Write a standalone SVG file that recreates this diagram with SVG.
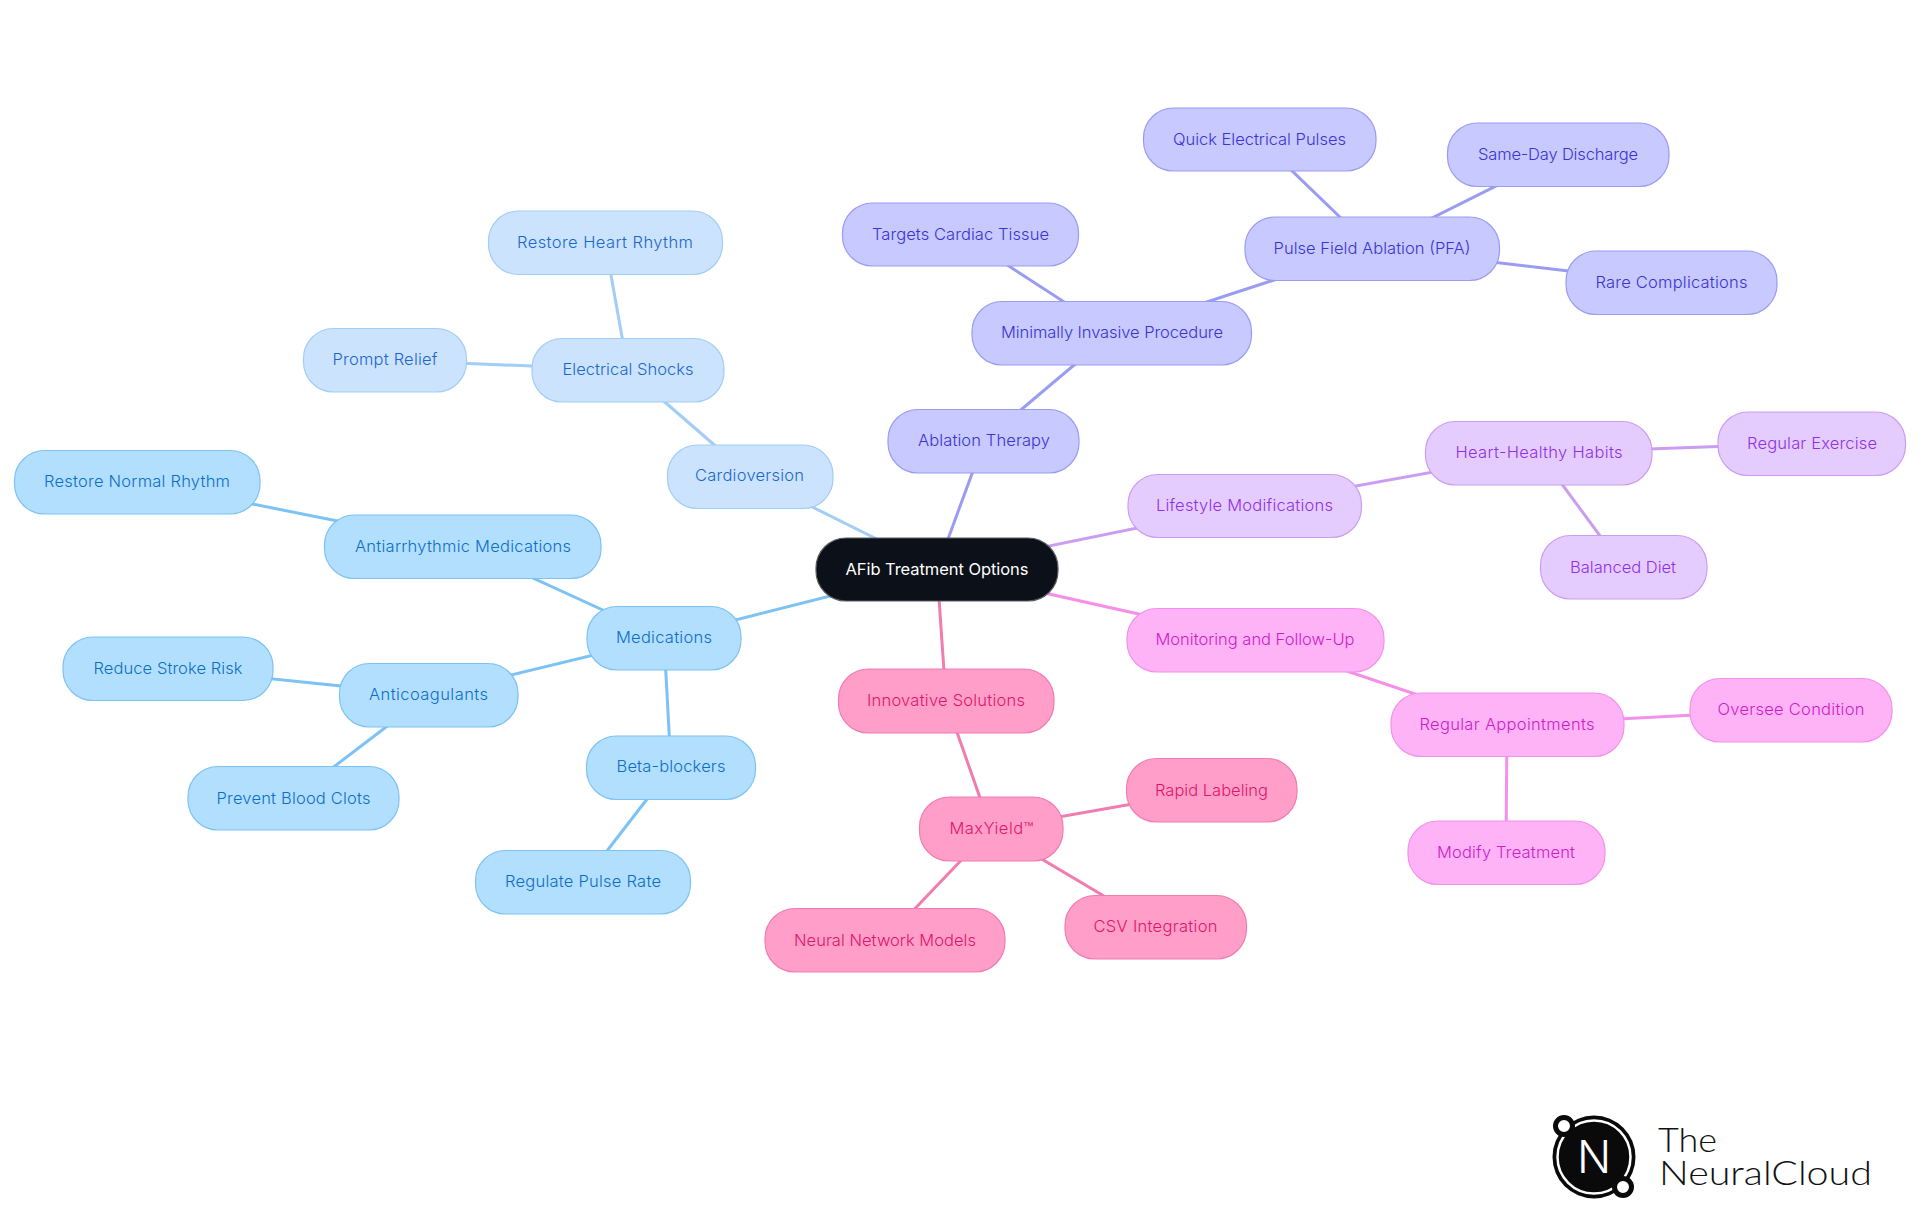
<svg xmlns="http://www.w3.org/2000/svg" width="1920" height="1215" viewBox="0 0 1920 1215">
<style>
text{font-family:"Inter","Noto Sans","Liberation Sans",sans-serif;font-size:16.5px;font-weight:350;text-anchor:middle}
rect{stroke-width:1.2}
#connectors line{stroke-width:3;fill:none}
.med rect{fill:#b3dfff;stroke:#7cc2f4}.med text{fill:#0b6fc6}
.car rect{fill:#cce3fd;stroke:#a2cdf5}.car text{fill:#1a68cc}
.abl rect{fill:#c7c9ff;stroke:#9a9cf2}.abl text{fill:#3a34d0}
.lif rect{fill:#e5ccff;stroke:#cb9df2}.lif text{fill:#9030e6}
.mon rect{fill:#ffb3f7;stroke:#f590e8}.mon text{fill:#cc1cc6}
.inn rect{fill:#ff9fc9;stroke:#f07cb0}.inn text{fill:#e0146c}
.root rect{fill:#0b1019;stroke:#5a5e64}.root text{fill:#fff;font-weight:400}
.c-med{stroke:#7cc2f4}.c-car{stroke:#a2cdf5}.c-abl{stroke:#9a9cf2}.c-lif{stroke:#cb9df2}.c-mon{stroke:#f590e8}.c-inn{stroke:#f07cb0}
#logo .word{font-family:"Lato","Open Sans",sans-serif;font-weight:300;font-size:33px;text-anchor:start;fill:#111}
#logo .mark{font-size:45px;font-weight:300;fill:#fff}
</style>
<rect width="1920" height="1215" fill="#fff" stroke="none"/>
<g id="connectors">
<line class="c-car" x1="937" y1="569" x2="750" y2="476"/>
<line class="c-car" x1="750" y1="476" x2="628" y2="370"/>
<line class="c-car" x1="628" y1="370" x2="605" y2="242"/>
<line class="c-car" x1="628" y1="370" x2="385" y2="360"/>
<line class="c-med" x1="937" y1="569" x2="664" y2="638"/>
<line class="c-med" x1="664" y1="638" x2="463" y2="546"/>
<line class="c-med" x1="463" y1="546" x2="137" y2="481"/>
<line class="c-med" x1="664" y1="638" x2="428" y2="695"/>
<line class="c-med" x1="428" y1="695" x2="168" y2="668"/>
<line class="c-med" x1="428" y1="695" x2="293" y2="798"/>
<line class="c-med" x1="664" y1="638" x2="671" y2="768"/>
<line class="c-med" x1="671" y1="768" x2="583" y2="882"/>
<line class="c-abl" x1="937" y1="569" x2="984" y2="441"/>
<line class="c-abl" x1="984" y1="441" x2="1112" y2="333"/>
<line class="c-abl" x1="1112" y1="333" x2="961" y2="235"/>
<line class="c-abl" x1="1112" y1="333" x2="1372" y2="248"/>
<line class="c-abl" x1="1372" y1="248" x2="1260" y2="140"/>
<line class="c-abl" x1="1372" y1="248" x2="1558" y2="155"/>
<line class="c-abl" x1="1372" y1="248" x2="1671" y2="283"/>
<line class="c-lif" x1="937" y1="569" x2="1245" y2="506"/>
<line class="c-lif" x1="1245" y1="506" x2="1539" y2="453"/>
<line class="c-lif" x1="1539" y1="453" x2="1812" y2="443"/>
<line class="c-lif" x1="1539" y1="453" x2="1623" y2="567"/>
<line class="c-mon" x1="937" y1="569" x2="1255" y2="640"/>
<line class="c-mon" x1="1255" y1="640" x2="1507" y2="725"/>
<line class="c-mon" x1="1507" y1="725" x2="1791" y2="710"/>
<line class="c-mon" x1="1507" y1="725" x2="1506" y2="852"/>
<line class="c-inn" x1="937" y1="569" x2="946" y2="701"/>
<line class="c-inn" x1="946" y1="701" x2="991" y2="829"/>
<line class="c-inn" x1="991" y1="829" x2="1212" y2="790"/>
<line class="c-inn" x1="991" y1="829" x2="1156" y2="927"/>
<line class="c-inn" x1="991" y1="829" x2="885" y2="940"/>
</g>
<g id="n-root" class="root"><rect x="816" y="538" width="242" height="63" rx="30"/><text x="937" y="575" textLength="183">AFib Treatment Options</text></g>
<g id="n-cardioversion" class="car"><rect x="667.5" y="445" width="165.5" height="63.5" rx="30"/><text x="749.5" y="481" textLength="109">Cardioversion</text></g>
<g id="n-electrical" class="car"><rect x="532" y="338.5" width="192" height="63.5" rx="30"/><text x="628" y="375" textLength="131">Electrical Shocks</text></g>
<g id="n-restore-heart" class="car"><rect x="488.5" y="211" width="234" height="63.5" rx="30"/><text x="605" y="248" textLength="176">Restore Heart Rhythm</text></g>
<g id="n-prompt" class="car"><rect x="303.5" y="328.5" width="163" height="63.5" rx="30"/><text x="385" y="365" textLength="105">Prompt Relief</text></g>
<g id="n-medications" class="med"><rect x="587" y="606.5" width="154" height="63.5" rx="30"/><text x="664" y="643" textLength="96">Medications</text></g>
<g id="n-antiarrhythmic" class="med"><rect x="324.5" y="515" width="276.5" height="63.5" rx="30"/><text x="463" y="552" textLength="216">Antiarrhythmic Medications</text></g>
<g id="n-restore-normal" class="med"><rect x="14.5" y="450.5" width="245.5" height="63.5" rx="30"/><text x="137" y="487" textLength="186">Restore Normal Rhythm</text></g>
<g id="n-anticoagulants" class="med"><rect x="339.5" y="663.5" width="178.5" height="63.5" rx="30"/><text x="428.5" y="699.5" textLength="119">Anticoagulants</text></g>
<g id="n-reduce" class="med"><rect x="63" y="637" width="210" height="63.5" rx="30"/><text x="168" y="674" textLength="149">Reduce Stroke Risk</text></g>
<g id="n-prevent" class="med"><rect x="188" y="766.5" width="211" height="63.5" rx="30"/><text x="293.5" y="804" textLength="154">Prevent Blood Clots</text></g>
<g id="n-beta" class="med"><rect x="586.5" y="736" width="169" height="63.5" rx="30"/><text x="671" y="772" textLength="109">Beta-blockers</text></g>
<g id="n-regulate" class="med"><rect x="475.5" y="850.5" width="215" height="63.5" rx="30"/><text x="583" y="887" textLength="156">Regulate Pulse Rate</text></g>
<g id="n-ablation" class="abl"><rect x="888" y="409.5" width="191" height="63.5" rx="30"/><text x="984" y="446" textLength="132">Ablation Therapy</text></g>
<g id="n-minimally" class="abl"><rect x="972" y="301.5" width="279.5" height="63.5" rx="30"/><text x="1112" y="338" textLength="222">Minimally Invasive Procedure</text></g>
<g id="n-targets" class="abl"><rect x="842.5" y="203" width="236" height="63" rx="30"/><text x="960.5" y="240" textLength="177">Targets Cardiac Tissue</text></g>
<g id="n-pfa" class="abl"><rect x="1245" y="217" width="254.5" height="63.5" rx="30"/><text x="1372" y="254" textLength="197">Pulse Field Ablation (PFA)</text></g>
<g id="n-quick" class="abl"><rect x="1143.5" y="108" width="232.5" height="63" rx="30"/><text x="1259.5" y="145" textLength="173">Quick Electrical Pulses</text></g>
<g id="n-sameday" class="abl"><rect x="1447.5" y="123" width="221.5" height="63.5" rx="30"/><text x="1558" y="160" textLength="160">Same-Day Discharge</text></g>
<g id="n-rare" class="abl"><rect x="1566" y="251" width="211" height="63.5" rx="30"/><text x="1671.5" y="288" textLength="152">Rare Complications</text></g>
<g id="n-lifestyle" class="lif"><rect x="1128" y="474.5" width="233.5" height="63" rx="30"/><text x="1244.5" y="511" textLength="177">Lifestyle Modifications</text></g>
<g id="n-habits" class="lif"><rect x="1425.5" y="421.5" width="226.5" height="63.5" rx="30"/><text x="1539" y="458" textLength="167">Heart-Healthy Habits</text></g>
<g id="n-exercise" class="lif"><rect x="1718" y="412" width="187.5" height="63.5" rx="30"/><text x="1812" y="449" textLength="130">Regular Exercise</text></g>
<g id="n-diet" class="lif"><rect x="1540.5" y="535.5" width="166.5" height="63.5" rx="30"/><text x="1623" y="573" textLength="106">Balanced Diet</text></g>
<g id="n-monitoring" class="mon"><rect x="1127" y="608.5" width="257" height="63.5" rx="30"/><text x="1255" y="645" textLength="199">Monitoring and Follow-Up</text></g>
<g id="n-appointments" class="mon"><rect x="1391" y="693" width="233" height="63.5" rx="30"/><text x="1507" y="730" textLength="175">Regular Appointments</text></g>
<g id="n-oversee" class="mon"><rect x="1690" y="678.5" width="202" height="63.5" rx="30"/><text x="1791" y="715" textLength="147">Oversee Condition</text></g>
<g id="n-modify" class="mon"><rect x="1408" y="821" width="197" height="63.5" rx="30"/><text x="1506" y="858" textLength="138">Modify Treatment</text></g>
<g id="n-innovative" class="inn"><rect x="838.5" y="669" width="215.5" height="64" rx="30"/><text x="946" y="706" textLength="158">Innovative Solutions</text></g>
<g id="n-maxyield" class="inn"><rect x="919.5" y="797" width="143.5" height="64" rx="30"/><text x="991.5" y="834" textLength="84">MaxYield™</text></g>
<g id="n-rapid" class="inn"><rect x="1126.5" y="758.5" width="170.5" height="63.5" rx="30"/><text x="1211.5" y="796" textLength="113">Rapid Labeling</text></g>
<g id="n-csv" class="inn"><rect x="1065" y="895.5" width="181.5" height="63.5" rx="30"/><text x="1155.5" y="932" textLength="124">CSV Integration</text></g>
<g id="n-neural" class="inn"><rect x="765" y="908.5" width="240" height="63.5" rx="30"/><text x="885" y="946" textLength="182">Neural Network Models</text></g>
<g id="logo">
<circle cx="1594" cy="1157" r="41.5" fill="#0a0a0a"/>
<circle cx="1594" cy="1157" r="36.5" fill="none" stroke="#fff" stroke-width="2.5"/>
<text class="mark" x="1594" y="1173">N</text>
<circle cx="1564" cy="1126" r="8.5" fill="#fff" stroke="#0a0a0a" stroke-width="5"/>
<circle cx="1623" cy="1187" r="8.5" fill="#fff" stroke="#0a0a0a" stroke-width="5"/>
<text class="word" x="1658" y="1152" textLength="59" lengthAdjust="spacingAndGlyphs">The</text>
<text class="word" x="1659" y="1185" textLength="213" lengthAdjust="spacingAndGlyphs">NeuralCloud</text>
</g>
</svg>
